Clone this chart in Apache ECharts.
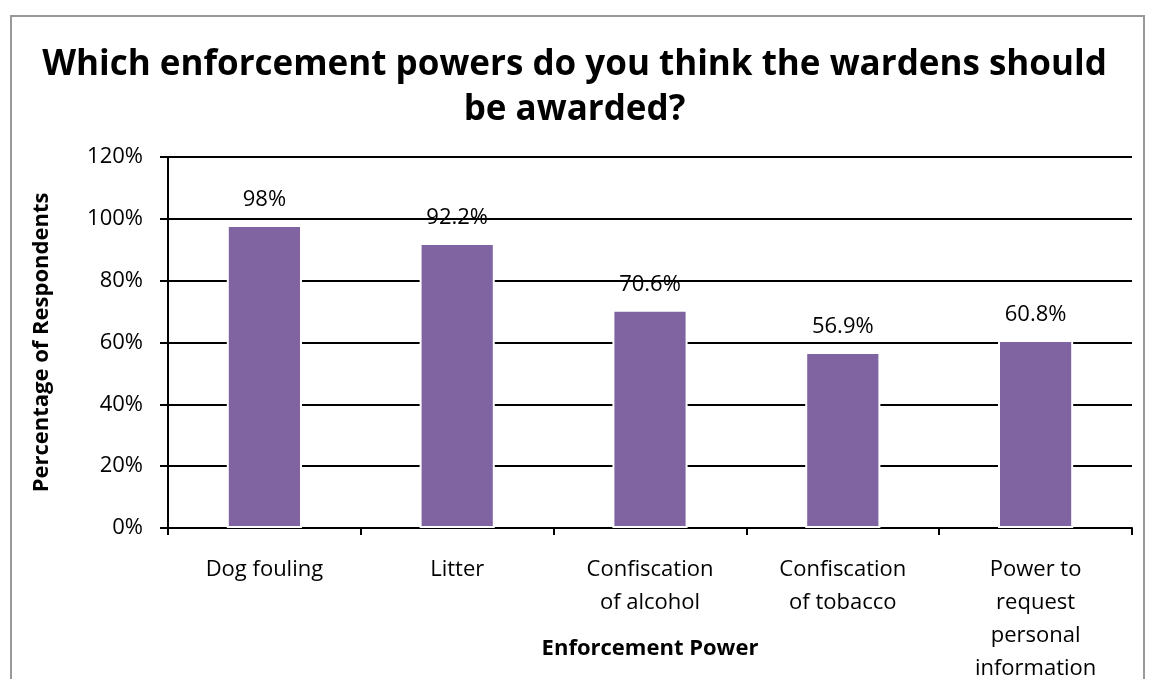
<!DOCTYPE html>
<html><head><meta charset="utf-8">
<script src="https://cdn.jsdelivr.net/npm/echarts@6/dist/echarts.min.js"></script>
<style>html,body{margin:0;padding:0;background:#fff}#c{width:1149px;height:679px}
#frame{position:absolute;left:10px;top:15px;width:1135px;height:700px;border:2px solid #999;box-sizing:border-box;pointer-events:none}</style>
</head><body><div id="c"></div><div id="frame"></div>
<script>
const categories = ['Dog fouling', 'Litter', 'Confiscation\nof alcohol', 'Confiscation\nof tobacco', 'Power to\nrequest\npersonal\ninformation'];
const values = [98, 92.2, 70.6, 56.9, 60.8];
const valueLabels = ['98%', '92.2%', '70.6%', '56.9%', '60.8%'];
const yTicks = { min: 0, max: 120, interval: 20 };
const FONT = '"Open Sans", "Liberation Sans", sans-serif';
const chart = echarts.init(document.getElementById('c'), null, {renderer: 'canvas'});
chart.setOption({
  animation: false,
  title: {
    text: 'Which enforcement powers do you think the wardens should\nbe awarded?',
    left: 'center', top: 38,
    textStyle: {fontFamily: FONT, fontSize: 35, fontWeight: 'bold', color: '#000', lineHeight: 45}
  },
  grid: {left: 168, right: 17, top: 157, bottom: 151, outerBoundsMode: 'none', containLabel: false},
  xAxis: {
    type: 'category', data: categories,
    name: 'Enforcement Power', nameLocation: 'middle', nameGap: 110, nameMoveOverlap: false,
    nameTextStyle: {fontFamily: FONT, fontSize: 22, fontWeight: 'bold', color: '#000'},
    axisLine: {lineStyle: {color: '#000', width: 2}},
    axisTick: {show: true, length: 7, lineStyle: {color: '#000', width: 2}},
    axisLabel: {fontFamily: FONT, fontSize: 22, color: '#000', margin: 25, lineHeight: 33, interval: 0}
  },
  yAxis: {
    type: 'value', min: yTicks.min, max: yTicks.max, interval: yTicks.interval,
    name: 'Percentage of Respondents', nameLocation: 'middle', nameGap: 115, nameRotate: 90, nameMoveOverlap: false,
    nameTextStyle: {fontFamily: FONT, fontSize: 22, fontWeight: 'bold', color: '#000'},
    axisLine: {show: true, lineStyle: {color: '#000', width: 2}},
    axisTick: {show: true, length: 8, lineStyle: {color: '#000', width: 2}},
    axisLabel: {fontFamily: FONT, fontSize: 22, color: '#000', margin: 25, formatter: '{value}%'},
    splitLine: {lineStyle: {color: '#000', width: 2}}
  },
  series: [{
    type: 'bar', data: values, barWidth: '39%',
    itemStyle: {color: '#8064A2', borderColor: '#fff', borderWidth: 2},
    label: {show: true, position: 'top', distance: 14, fontFamily: FONT, fontSize: 22, color: '#000',
      formatter: p => valueLabels[p.dataIndex]}
  }]
});
</script></body></html>
